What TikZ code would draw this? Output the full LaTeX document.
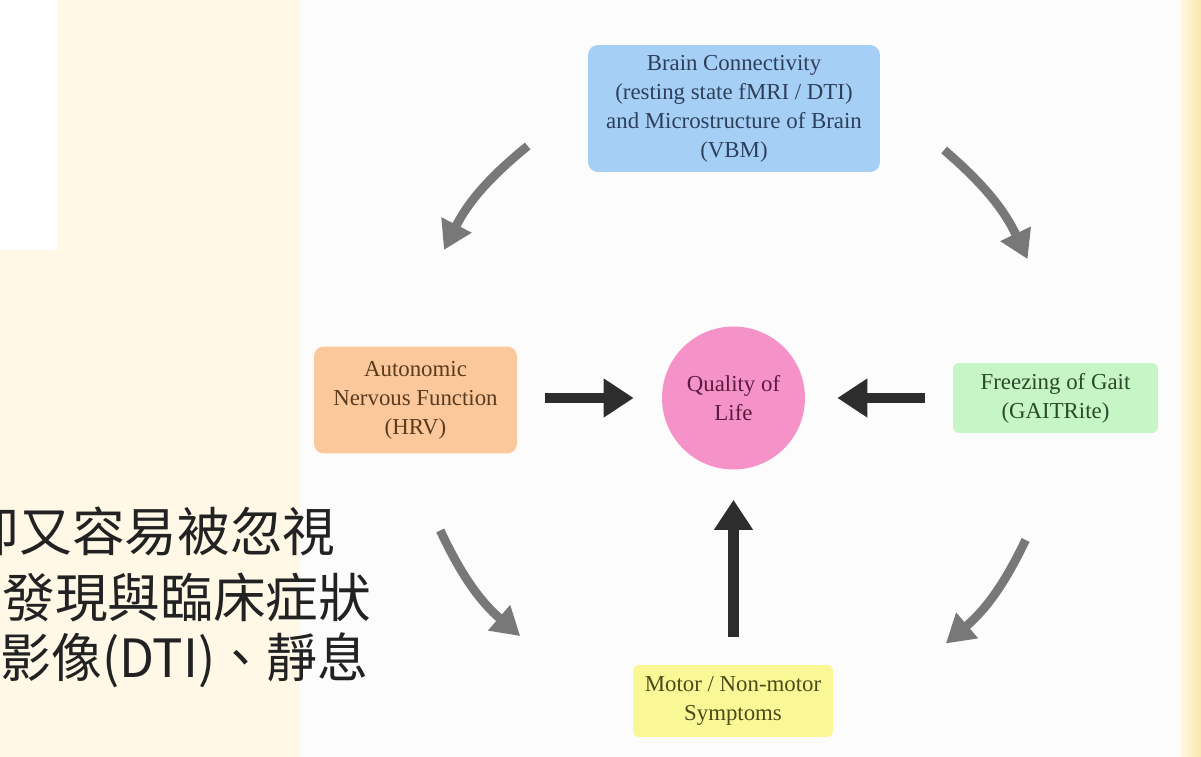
\documentclass[tikz,border=0pt]{standalone}
\usepackage{fontspec}
\setmainfont{Liberation Serif}
\newfontfamily\cjk{Noto Sans CJK TC}
\usetikzlibrary{arrows.meta,calc}
\definecolor{creambg}{HTML}{FFF8E6}
\definecolor{stripbg}{HTML}{FAE6AA}
\definecolor{bluefill}{HTML}{A6CFF6}
\definecolor{orangefill}{HTML}{FAC89B}
\definecolor{pinkfill}{HTML}{F593C8}
\definecolor{greenfill}{HTML}{C6F5C6}
\definecolor{yellowfill}{HTML}{FAF896}
\definecolor{bluetext}{HTML}{2E3F5C}
\definecolor{orangetext}{HTML}{5B3B1E}
\definecolor{pinktext}{HTML}{5E1A3E}
\definecolor{greentext}{HTML}{2A4A2A}
\definecolor{yellowtext}{HTML}{4B4B1A}
\definecolor{arrgray}{HTML}{787878}
\definecolor{arrblack}{HTML}{2D2D2D}
\definecolor{cjktext}{HTML}{222222}
\begin{document}
\begin{tikzpicture}[x=0.02cm,y=0.02cm,
  boxstyle/.style={rectangle, rounded corners=0.2cm, align=center, inner sep=0pt,
    font=\fontsize{13}{16.5}\selectfont},
  grayarr/.style={draw=arrgray, line width=5pt, -{Triangle[length=0.56cm,width=0.64cm]}},
  blkarr/.style={draw=arrblack, line width=6.2pt, -{Triangle[length=0.6cm,width=0.74cm]}},
  cjkline/.style={font=\cjk\fontsize{30}{36}\selectfont, text=cjktext, inner sep=0pt}]
\clip (0,0) rectangle (1201,-757);
% backgrounds
\fill[creambg] (0,0) rectangle (1201,-757);
\fill[white] (0,0) rectangle (57,-250);
\fill[white!99!black] (300,0) rectangle (1180,-757);
\shade[left color=creambg, right color=stripbg] (1180,0) rectangle (1201,-757);
% Chinese text (partly cut at the left edge, as in the reference)
\node[cjkline, anchor=east] (cjka) at (336,-531) {卻又容易被忽視};
\node[cjkline, anchor=west] (cjkb) at (2,-597) {發現與臨床症狀};
\node[cjkline, anchor=west, xscale=0.965] (cjkc) at (0,-660) {影像(DTI)、靜息};
% nodes
\node[boxstyle, fill=bluefill, text=bluetext, minimum width=5.84cm, minimum height=2.54cm] (brain) at (734,-108.5)
  {Brain Connectivity\\(resting state fMRI / DTI)\\and Microstructure of Brain\\(VBM)};
\node[boxstyle, fill=orangefill, text=orangetext, minimum width=4.06cm, minimum height=2.14cm] (ans) at (415.5,-400)
  {Autonomic\\Nervous Function\\(HRV)};
\node[circle, fill=pinkfill, text=pinktext, minimum size=2.86cm, inner sep=0pt, align=center,
  font=\fontsize{13}{16.5}\selectfont] (qol) at (733.5,-398) {Quality of\\Life};
\node[boxstyle, rounded corners=0.12cm, fill=greenfill, text=greentext, minimum width=4.1cm, minimum height=1.4cm] (fog) at (1055.5,-398)
  {Freezing of Gait\\(GAITRite)};
\node[boxstyle, rounded corners=0.12cm, fill=yellowfill, text=yellowtext, minimum width=4.0cm, minimum height=1.44cm] (motor) at (733,-701)
  {Motor / Non-motor\\Symptoms};
% black arrows into the centre
\draw[blkarr, shorten <=0.56cm, shorten >=0.56cm] (ans.east |- qol.west) -- (qol.west);
\draw[blkarr, shorten <=0.56cm, shorten >=0.64cm] (fog.west) -- (qol.east);
\draw[blkarr, shorten <=0.56cm, shorten >=0.6cm] (motor.north -| qol.south) -- (qol.south);
% curved gray arrows around the circle
\coordinate (ctr) at (733.5,-397.5);
\coordinate (t1) at ($(ctr)+(129.3:325)$);
\coordinate (h1) at ($(ctr)+(153:325)$);
\coordinate (t2) at ($(ctr)+(49.6:325)$);
\coordinate (h2) at ($(ctr)+(25.2:325)$);
\coordinate (t3) at ($(ctr)+(204.4:322)$);
\coordinate (h3) at ($(ctr)+(228.2:320)$);
\coordinate (t4) at ($(ctr)+(-26:325)$);
\coordinate (h4) at ($(ctr)+(-49.2:325)$);
\draw[grayarr] (t1) to[bend right=12] (h1);
\draw[grayarr] (t2) to[bend left=12] (h2);
\draw[grayarr] (t3) to[bend right=12] (h3);
\draw[grayarr] (t4) to[bend left=12] (h4);
\end{tikzpicture}
\end{document}
